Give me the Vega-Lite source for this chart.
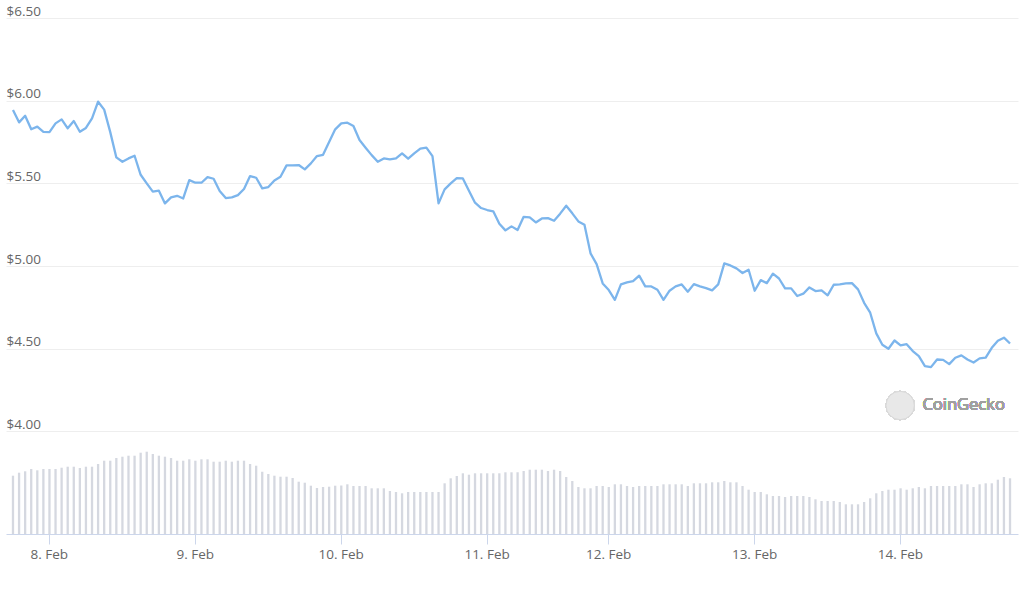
{
  "$schema": "https://vega.github.io/schema/vega-lite/v6.json",
  "width": 1012,
  "height": 516,
  "autosize": "none",
  "padding": {"left": 6, "top": 18, "right": 9, "bottom": 56},
  "background": "white",
  "config": {"view": {"stroke": null}, "font": "Open Sans"},
  "data": {"values": [
    {"i":0,"p":5.944,"v":5.83},{"i":1,"p":5.869,"v":6.13},{"i":2,"p":5.909,"v":6.27},{"i":3,"p":5.827,"v":6.5},{"i":4,"p":5.843,"v":6.37},
    {"i":5,"p":5.812,"v":6.5},{"i":6,"p":5.81,"v":6.5},{"i":7,"p":5.863,"v":6.5},{"i":8,"p":5.887,"v":6.63},{"i":9,"p":5.833,"v":6.73},
    {"i":10,"p":5.877,"v":6.73},{"i":11,"p":5.812,"v":6.6},{"i":12,"p":5.835,"v":6.73},{"i":13,"p":5.893,"v":6.73},{"i":14,"p":5.994,"v":7.0},
    {"i":15,"p":5.946,"v":7.33},{"i":16,"p":5.81,"v":7.33},{"i":17,"p":5.657,"v":7.6},{"i":18,"p":5.631,"v":7.73},{"i":19,"p":5.651,"v":7.83},
    {"i":20,"p":5.667,"v":7.83},{"i":21,"p":5.552,"v":8.13},{"i":22,"p":5.5,"v":8.23},{"i":23,"p":5.45,"v":8.0},{"i":24,"p":5.456,"v":7.83},
    {"i":25,"p":5.379,"v":7.73},{"i":26,"p":5.415,"v":7.6},{"i":27,"p":5.425,"v":7.33},{"i":28,"p":5.409,"v":7.33},{"i":29,"p":5.52,"v":7.47},
    {"i":30,"p":5.504,"v":7.33},{"i":31,"p":5.504,"v":7.47},{"i":32,"p":5.538,"v":7.47},{"i":33,"p":5.528,"v":7.23},{"i":34,"p":5.454,"v":7.23},
    {"i":35,"p":5.411,"v":7.33},{"i":36,"p":5.415,"v":7.23},{"i":37,"p":5.429,"v":7.33},{"i":38,"p":5.466,"v":7.33},{"i":39,"p":5.544,"v":7.0},
    {"i":40,"p":5.534,"v":6.83},{"i":41,"p":5.47,"v":6.23},{"i":42,"p":5.478,"v":6.0},{"i":43,"p":5.518,"v":5.83},{"i":44,"p":5.54,"v":5.73},
    {"i":45,"p":5.609,"v":5.73},{"i":46,"p":5.609,"v":5.6},{"i":47,"p":5.611,"v":5.23},{"i":48,"p":5.585,"v":5.13},{"i":49,"p":5.621,"v":4.83},
    {"i":50,"p":5.665,"v":4.6},{"i":51,"p":5.673,"v":4.7},{"i":52,"p":5.75,"v":4.73},{"i":53,"p":5.827,"v":4.83},{"i":54,"p":5.863,"v":4.85},
    {"i":55,"p":5.867,"v":4.97},{"i":56,"p":5.847,"v":4.8},{"i":57,"p":5.762,"v":4.8},{"i":58,"p":5.716,"v":4.8},{"i":59,"p":5.671,"v":4.57},
    {"i":60,"p":5.631,"v":4.57},{"i":61,"p":5.651,"v":4.57},{"i":62,"p":5.645,"v":4.3},{"i":63,"p":5.651,"v":4.2},{"i":64,"p":5.681,"v":4.07},
    {"i":65,"p":5.649,"v":4.2},{"i":66,"p":5.681,"v":4.2},{"i":67,"p":5.71,"v":4.2},{"i":68,"p":5.716,"v":4.2},{"i":69,"p":5.665,"v":4.2},
    {"i":70,"p":5.379,"v":4.2},{"i":71,"p":5.464,"v":5.07},{"i":72,"p":5.5,"v":5.57},{"i":73,"p":5.532,"v":5.8},{"i":74,"p":5.53,"v":6.07},
    {"i":75,"p":5.456,"v":5.93},{"i":76,"p":5.383,"v":6.07},{"i":77,"p":5.351,"v":6.07},{"i":78,"p":5.339,"v":6.07},{"i":79,"p":5.331,"v":6.07},
    {"i":80,"p":5.256,"v":6.07},{"i":81,"p":5.216,"v":6.17},{"i":82,"p":5.24,"v":6.17},{"i":83,"p":5.218,"v":6.17},{"i":84,"p":5.298,"v":6.3},
    {"i":85,"p":5.294,"v":6.43},{"i":86,"p":5.264,"v":6.43},{"i":87,"p":5.288,"v":6.43},{"i":88,"p":5.29,"v":6.3},{"i":89,"p":5.274,"v":6.43},
    {"i":90,"p":5.317,"v":6.3},{"i":91,"p":5.365,"v":5.7},{"i":92,"p":5.319,"v":5.3},{"i":93,"p":5.27,"v":4.7},{"i":94,"p":5.25,"v":4.57},
    {"i":95,"p":5.077,"v":4.57},{"i":96,"p":5.012,"v":4.8},{"i":97,"p":4.895,"v":4.8},{"i":98,"p":4.855,"v":4.7},{"i":99,"p":4.796,"v":4.97},
    {"i":100,"p":4.889,"v":4.97},{"i":101,"p":4.901,"v":4.8},{"i":102,"p":4.909,"v":4.7},{"i":103,"p":4.942,"v":4.8},{"i":104,"p":4.877,"v":4.8},
    {"i":105,"p":4.877,"v":4.8},{"i":106,"p":4.857,"v":4.8},{"i":107,"p":4.796,"v":4.97},{"i":108,"p":4.851,"v":4.97},{"i":109,"p":4.877,"v":4.97},
    {"i":110,"p":4.889,"v":4.97},{"i":111,"p":4.845,"v":4.8},{"i":112,"p":4.891,"v":5.07},{"i":113,"p":4.877,"v":5.07},{"i":114,"p":4.867,"v":5.07},
    {"i":115,"p":4.853,"v":5.17},{"i":116,"p":4.889,"v":5.17},{"i":117,"p":5.016,"v":5.3},{"i":118,"p":5.004,"v":5.17},{"i":119,"p":4.986,"v":5.17},
    {"i":120,"p":4.958,"v":4.8},{"i":121,"p":4.978,"v":4.43},{"i":122,"p":4.851,"v":4.2},{"i":123,"p":4.915,"v":4.2},{"i":124,"p":4.897,"v":3.97},
    {"i":125,"p":4.954,"v":3.8},{"i":126,"p":4.925,"v":3.8},{"i":127,"p":4.865,"v":3.7},{"i":128,"p":4.865,"v":3.8},{"i":129,"p":4.819,"v":3.8},
    {"i":130,"p":4.833,"v":3.8},{"i":131,"p":4.871,"v":3.7},{"i":132,"p":4.849,"v":3.47},{"i":133,"p":4.853,"v":3.3},{"i":134,"p":4.823,"v":3.3},
    {"i":135,"p":4.887,"v":3.3},{"i":136,"p":4.889,"v":3.2},{"i":137,"p":4.895,"v":2.97},{"i":138,"p":4.897,"v":2.97},{"i":139,"p":4.859,"v":2.97},
    {"i":140,"p":4.778,"v":3.2},{"i":141,"p":4.718,"v":3.57},{"i":142,"p":4.593,"v":4.07},{"i":143,"p":4.524,"v":4.3},{"i":144,"p":4.5,"v":4.43},
    {"i":145,"p":4.55,"v":4.43},{"i":146,"p":4.52,"v":4.57},{"i":147,"p":4.528,"v":4.43},{"i":148,"p":4.486,"v":4.57},{"i":149,"p":4.456,"v":4.7},
    {"i":150,"p":4.395,"v":4.57},{"i":151,"p":4.389,"v":4.8},{"i":152,"p":4.435,"v":4.8},{"i":153,"p":4.433,"v":4.8},{"i":154,"p":4.407,"v":4.8},
    {"i":155,"p":4.446,"v":4.8},{"i":156,"p":4.46,"v":4.97},{"i":157,"p":4.435,"v":4.97},{"i":158,"p":4.417,"v":4.7},{"i":159,"p":4.442,"v":4.97},
    {"i":160,"p":4.446,"v":5.07},{"i":161,"p":4.506,"v":5.07},{"i":162,"p":4.548,"v":5.43},{"i":163,"p":4.567,"v":5.7},{"i":164,"p":4.532,"v":5.57}
  ]},
  "encoding": {
    "x": {
      "field": "i",
      "type": "quantitative",
      "scale": {"domain": [-0.326, 164.49], "nice": false, "zero": false},
      "axis": {
        "values": [5.9, 29.9, 53.9, 77.9, 97.9, 121.9, 145.9],
        "labelExpr": "['8. Feb','9. Feb','10. Feb','11. Feb','12. Feb','13. Feb','14. Feb'][indexof([5.9,29.9,53.9,77.9,97.9,121.9,145.9], datum.value)]",
        "grid": false,
        "domainColor": "#ccd6eb",
        "tickColor": "#ccd6eb",
        "tickSize": 10,
        "labelColor": "#666666",
        "labelFont": "Open Sans",
        "labelFontSize": 13.5,
        "labelBaseline": "alphabetic",
        "labelPadding": 14,
        "labelFlush": false,
        "labelOverlap": false,
        "title": null
      }
    }
  },
  "layer": [
    {
      "mark": {"type": "bar", "size": 2.3, "color": "#d5d8e0"},
      "encoding": {
        "y": {"field": "v", "type": "quantitative", "scale": {"domain": [0, 51.6], "nice": false}, "axis": null}
      }
    },
    {
      "mark": {"type": "line", "color": "#7cb5ec", "strokeWidth": 2.3, "strokeJoin": "round"},
      "encoding": {
        "y": {
          "field": "p",
          "type": "quantitative",
          "scale": {"domain": [3.38, 6.5], "nice": false, "zero": false},
          "axis": {
            "orient": "left",
            "values": [4, 4.5, 5, 5.5, 6, 6.5],
            "format": "$.2f",
            "ticks": false,
            "domain": false,
            "grid": true,
            "gridColor": "#eeeeee",
            "labelAlign": "left",
            "labelPadding": 0,
            "labelBaseline": "alphabetic",
            "labelOffset": -3,
            "labelColor": "#666666",
            "labelFont": "Open Sans",
            "labelFontSize": 13.5,
            "labelFlush": false,
            "labelOverlap": false,
            "title": null
          }
        }
      }
    },
    {
      "mark": {"type": "point", "shape": "circle", "filled": true, "size": 804, "color": "#e8e8e8", "stroke": "#d9d9d9", "strokeWidth": 1, "opacity": 1},
      "encoding": {
        "x": {"datum": 145.93, "type": "quantitative"},
        "y": {"datum": 4.157, "type": "quantitative", "scale": {"domain": [3.38, 6.5], "nice": false, "zero": false}, "axis": null}
      }
    },
    {
      "mark": {"type": "text", "text": "CoinGecko", "align": "left", "baseline": "middle", "font": "Open Sans", "fontSize": 16.5, "color": "#a0a0a0"},
      "encoding": {
        "x": {"datum": 149.6, "type": "quantitative"},
        "y": {"datum": 4.16, "type": "quantitative", "scale": {"domain": [3.38, 6.5], "nice": false, "zero": false}, "axis": null}
      }
    }
  ],
  "resolve": {"scale": {"y": "independent"}}
}
